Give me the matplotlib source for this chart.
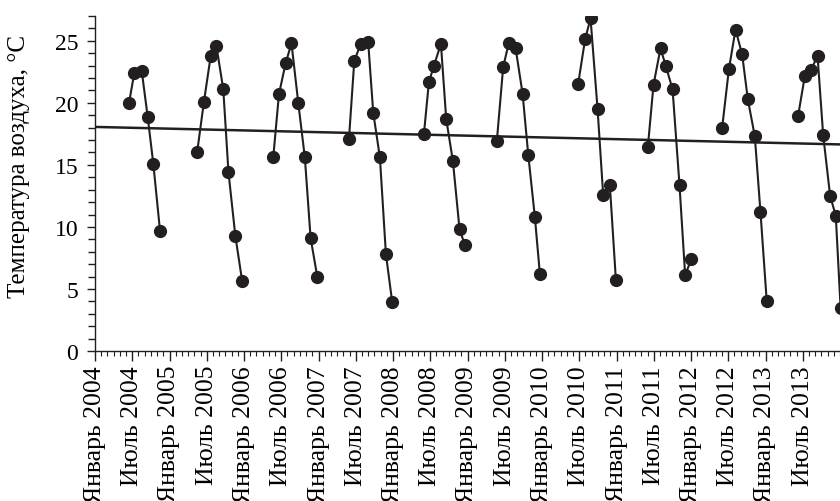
import matplotlib
matplotlib.use("Agg")
import matplotlib.pyplot as plt
import numpy as np

plt.rcParams['font.family'] = ['Liberation Serif', 'DejaVu Serif']

# месяц внутри года (0 = январь) и температура воздуха
years = [2004, 2005, 2006, 2007, 2008, 2009, 2010, 2011, 2012, 2013]
months = [
    [5.48, 6.33, 7.52, 8.48, 9.39, 10.47],
    [4.46, 5.55, 6.63, 7.55, 8.66, 9.50, 10.60, 11.70],
    [4.71, 5.63, 6.71, 7.65, 8.74, 9.80, 10.73, 11.80],
    [4.90, 5.76, 6.78, 8.00, 8.82, 9.89, 10.86, 11.87],
    [4.98, 5.78, 6.59, 7.72, 8.57, 9.65, 10.72, 11.58],
    [4.73, 5.75, 6.67, 7.75, 8.87, 9.79, 10.85, 11.66],
    [5.83, 6.95, 7.82, 8.95, 9.85, 10.93, 11.90],
    [5.05, 5.96, 7.09, 7.95, 9.03, 10.15, 11.06, 12.08],
    [5.02, 6.10, 7.17, 8.24, 9.15, 10.28, 11.19, 12.20],
    [5.25, 6.33, 7.35, 8.38, 9.29, 10.41, 11.32, 12.10],
]
temps = [
    [20.0, 22.4, 22.6, 18.9, 15.1, 9.7],
    [16.05, 20.1, 23.75, 24.6, 21.1, 14.4, 9.3, 5.65],
    [15.6, 20.7, 23.2, 24.8, 20.0, 15.6, 9.1, 6.0],
    [17.05, 23.35, 24.75, 24.9, 19.2, 15.6, 7.8, 3.95],
    [17.5, 21.65, 23.0, 24.75, 18.7, 15.3, 9.8, 8.55],
    [16.95, 22.9, 24.85, 24.4, 20.75, 15.8, 10.8, 6.2],
    [21.55, 25.15, 26.8, 19.5, 12.6, 13.35, 5.75],
    [16.45, 21.45, 24.4, 22.95, 21.1, 13.35, 6.1, 7.45],
    [18.0, 22.7, 25.9, 23.9, 20.3, 17.3, 11.2, 4.0],
    [18.95, 22.15, 22.65, 23.8, 17.4, 12.5, 10.9, 3.45],
]

# линия тренда (месяцы от января 2004)
trend_x = [0, 120]
trend_y = [18.06, 16.65]

tick_labels = [
    "Январь 2004", "Июль 2004", "Январь 2005", "Июль 2005",
    "Январь 2006", "Июль 2006", "Январь 2007", "Июль 2007",
    "Январь 2008", "Июль 2008", "Январь 2009", "Июль 2009",
    "Январь 2010", "Июль 2010", "Январь 2011", "Июль 2011",
    "Январь 2012", "Июль 2012", "Январь 2013", "Июль 2013",
]

ink = '#231f20'

fig = plt.figure(figsize=(8.4, 5.02), dpi=100)
ax = fig.add_axes([95 / 840, 150 / 502, 745 / 840, 335 / 502])

for yr, m, t in zip(years, months, temps):
    x = (yr - 2004) * 12 + np.array(m)
    ax.plot(x, t, color=ink, lw=1.5, marker='o', markersize=8.5,
            markerfacecolor=ink, markeredgecolor=ink)

ax.plot(trend_x, trend_y, color=ink, lw=1.8)

ax.set_xlim(0, 120)
ax.set_ylim(0, 27)

ax.set_xticks(np.arange(0, 120, 6))
ax.set_xticklabels(tick_labels, rotation=90, fontsize=18.5)
ax.set_xticks(np.arange(0, 121, 1), minor=True)
ax.set_yticks(np.arange(0, 26, 5))
ax.set_yticks(np.arange(0, 28, 1), minor=True)
ax.tick_params(axis='y', labelsize=17, length=6, width=1, color=ink, pad=6)
ax.tick_params(axis='y', which='minor', length=5, width=1, color=ink)
ax.tick_params(axis='x', length=7, width=1, color=ink, pad=3)
ax.tick_params(axis='x', which='minor', length=3.5, width=0.8, color=ink)

for s in ['top', 'right']:
    ax.spines[s].set_visible(False)
for s in ['left', 'bottom']:
    ax.spines[s].set_color(ink)
    ax.spines[s].set_linewidth(1)

ax.set_ylabel("Температура воздуха, °С", fontsize=18)
ax.yaxis.set_label_coords(-0.087, 0.555)

fig.savefig("out.png", dpi=100)
